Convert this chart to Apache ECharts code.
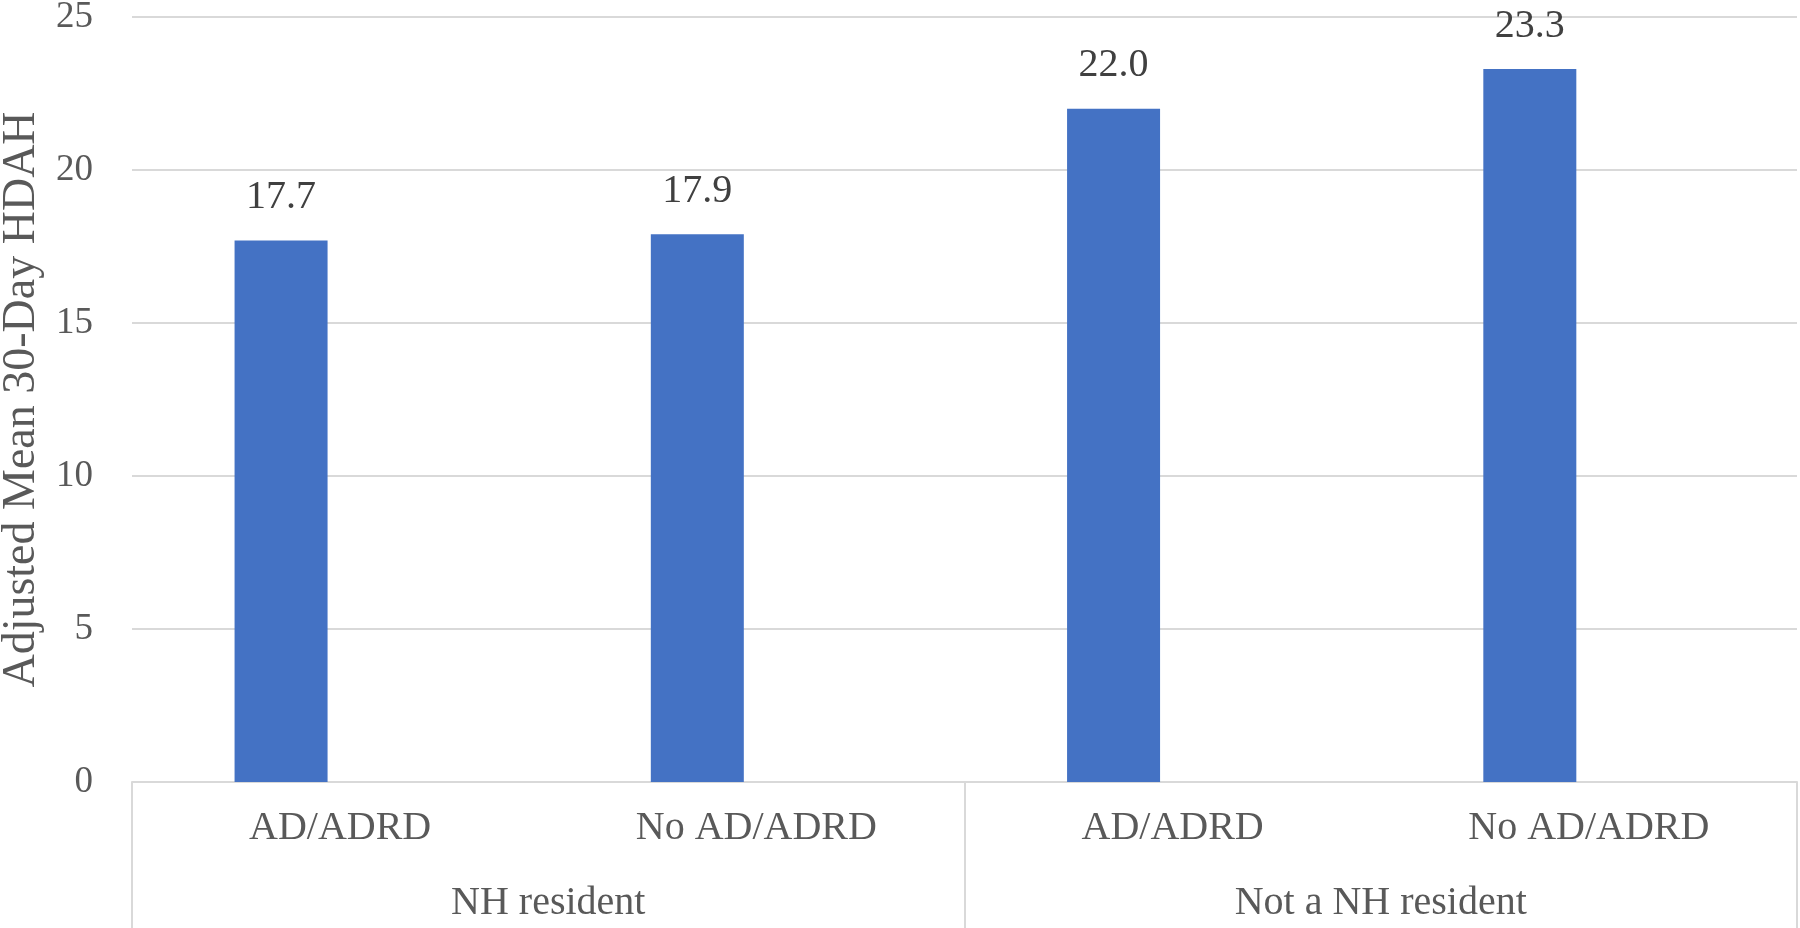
<!DOCTYPE html>
<html>
<head>
<meta charset="utf-8">
<script src="https://cdn.jsdelivr.net/npm/echarts@6/dist/echarts.min.js"></script>
<style>
html,body{margin:0;padding:0;background:#fff;}
#chart{width:1800px;height:928px;}
</style>
</head>
<body>
<div id="chart"></div>
<script>
const categories = ['AD/ADRD', 'No AD/ADRD', 'AD/ADRD', 'No AD/ADRD'];
const groups = ['NH resident', 'Not a NH resident'];
const values = [17.7, 17.9, 22.0, 23.3];
const emptyValues = [null, null, null, null];
const yTicks = [0, 5, 10, 15, 20, 25];

const FONT = '"Liberation Serif", "Times New Roman", serif';
const chart = echarts.init(document.getElementById('chart'));
chart.setOption({
  backgroundColor: '#ffffff',
  animation: false,
  grid: { left: 132, right: 3, top: 17, bottom: 146, containLabel: false, outerBoundsMode: 'none' },
  xAxis: [
    {
      type: 'category',
      data: categories,
      position: 'bottom',
      axisLine: { show: true, lineStyle: { color: '#d9d9d9', width: 2 } },
      axisTick: { show: false },
      axisLabel: { interval: 0, color: '#595959', fontFamily: FONT, fontSize: 40, margin: 26 }
    },
    {
      type: 'category',
      data: groups,
      position: 'bottom',
      offset: 0,
      axisLine: { show: false },
      axisTick: { show: true, interval: 0, length: 146, lineStyle: { color: '#d9d9d9', width: 2 } },
      axisLabel: { interval: 0, color: '#595959', fontFamily: FONT, fontSize: 40, margin: 101 }
    }
  ],
  yAxis: {
    type: 'value',
    min: yTicks[0],
    max: yTicks[yTicks.length - 1],
    interval: 5,
    name: 'Adjusted Mean 30-Day HDAH',
    nameLocation: 'middle',
    nameGap: 84,
    nameTextStyle: { color: '#595959', fontFamily: FONT, fontSize: 46 },
    axisLine: { show: false },
    axisTick: { show: false },
    axisLabel: { color: '#595959', fontFamily: FONT, fontSize: 37, margin: 39 },
    splitLine: { show: true, lineStyle: { color: '#d9d9d9', width: 2 } }
  },
  series: [
    {
      name: 'HDAH',
      type: 'bar',
      xAxisIndex: 0,
      data: values,
      barWidth: 93,
      barGap: '27%',
      itemStyle: { color: '#4472C4' },
      label: {
        show: true,
        position: 'top',
        distance: 23,
        color: '#404040',
        fontFamily: FONT,
        fontSize: 40,
        formatter: p => p.value.toFixed(1)
      }
    },
    {
      name: 'empty',
      type: 'bar',
      xAxisIndex: 0,
      data: emptyValues,
      barWidth: 93,
      itemStyle: { color: '#ED7D31' }
    }
  ]
});
</script>
</body>
</html>
